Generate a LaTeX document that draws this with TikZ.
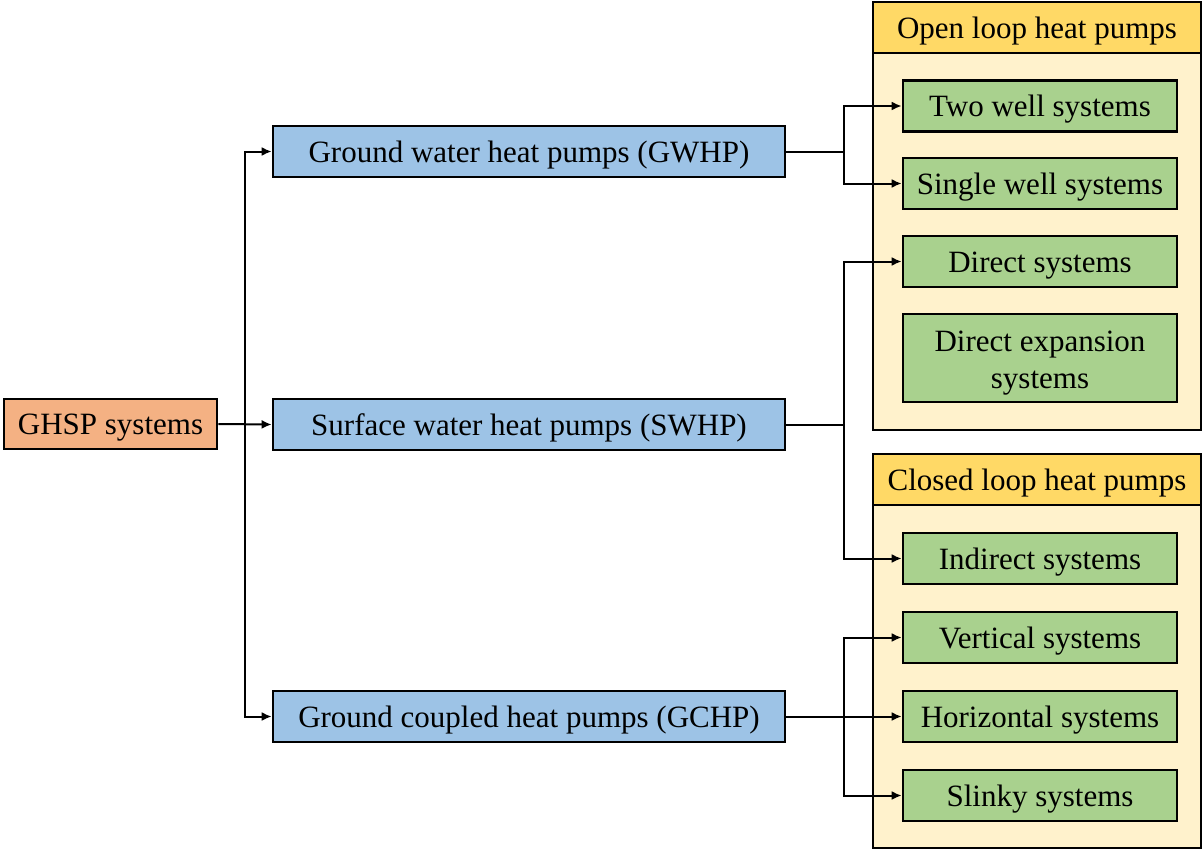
\documentclass[tikz,border=0pt]{standalone}
\usepackage{fontspec}
\setmainfont{Liberation Serif}
\usetikzlibrary{arrows.meta,calc}
\definecolor{rootfill}{HTML}{F4B183}
\definecolor{midfill}{HTML}{9DC3E6}
\definecolor{leaffill}{HTML}{A9D18E}
\definecolor{headfill}{HTML}{FFD966}
\definecolor{groupfill}{HTML}{FFF2CC}
\tikzset{
  label font/.style={font=\fontsize{31}{37}\selectfont},
  base/.style={draw=black, line width=2.6pt, inner sep=0pt, align=center,
    label font, text height=21pt, text depth=0pt},
  rootbox/.style={base, fill=rootfill, minimum width=213pt, minimum height=50pt},
  midbox/.style={base, fill=midfill, minimum width=512pt, minimum height=51pt},
  leafbox/.style={base, fill=leaffill, minimum width=274pt, minimum height=51pt},
  groupbox/.style={draw=black, line width=2.6pt, fill=groupfill},
  headbox/.style={draw=black, line width=2.6pt, fill=headfill},
  headtext/.style={label font, inner sep=0pt, text height=21pt, text depth=0pt},
  blocktext/.style={label font, inner sep=0pt, align=center},
  link/.style={line width=2pt},
  arr/.style={line width=2pt, -{Latex[length=10pt,width=9pt]}},
}
\begin{document}
\begin{tikzpicture}[x=1pt,y=-1pt]
\useasboundingbox (0,0) rectangle (1203,849);

% group panels
\draw[groupbox] (873,2) rectangle (1201,430);
\draw[headbox] (873,2) rectangle (1201,53);
\node[headtext] (openhead) at (1037,28) {Open loop heat pumps};
\draw[groupbox] (873,454) rectangle (1201,848);
\draw[headbox] (873,454) rectangle (1201,505);
\node[headtext] (closedhead) at (1037,480) {Closed loop heat pumps};

% root and main categories
\node[rootbox] (ghsp) at (110.5,424) {GHSP systems};
\node[midbox] (gwhp) at (529,151.5) {Ground water heat pumps (GWHP)};
\node[midbox] (swhp) at (529,424.5) {Surface water heat pumps (SWHP)};
\node[midbox] (gchp) at (529,716.5) {Ground coupled heat pumps (GCHP)};

% leaf systems
\node[leafbox] (twowell) at (1040,106) {Two well systems};
\node[leafbox] (single) at (1040,183.5) {Single well systems};
\node[leafbox] (direct) at (1040,261.5) {Direct systems};
\node[leafbox, minimum height=88pt] (dx) at (1040,358) {};
\node[blocktext] (dxtext) at (1040,363) {Direct expansion\\systems};
\node[leafbox] (indirect) at (1040,558.5) {Indirect systems};
\node[leafbox] (vertical) at (1040,637.5) {Vertical systems};
\node[leafbox] (horizontal) at (1040,716.5) {Horizontal systems};
\node[leafbox] (slinky) at (1040,795.5) {Slinky systems};

% branch points
\coordinate (trunk) at (245,424);
\coordinate (bA) at (844,151.5);
\coordinate (bB) at (844,424.5);
\coordinate (bC) at (844,716.5);

% root to categories
\draw[arr] (ghsp.east) -- (swhp.west);
\draw[arr] (trunk) |- (gwhp.west);
\draw[arr] (trunk) |- (gchp.west);

% ground water branches
\draw[link] (gwhp.east) -- (bA);
\draw[arr] (bA) |- (twowell.west);
\draw[arr] (bA) |- (single.west);

% surface water branches
\draw[link] (swhp.east) -- (bB);
\draw[arr] (bB) |- (direct.west);
\draw[arr] (bB) |- (indirect.west);

% ground coupled branches
\draw[arr] (gchp.east) -- (horizontal.west);
\draw[arr] (bC) |- (vertical.west);
\draw[arr] (bC) |- (slinky.west);
\end{tikzpicture}
\end{document}
